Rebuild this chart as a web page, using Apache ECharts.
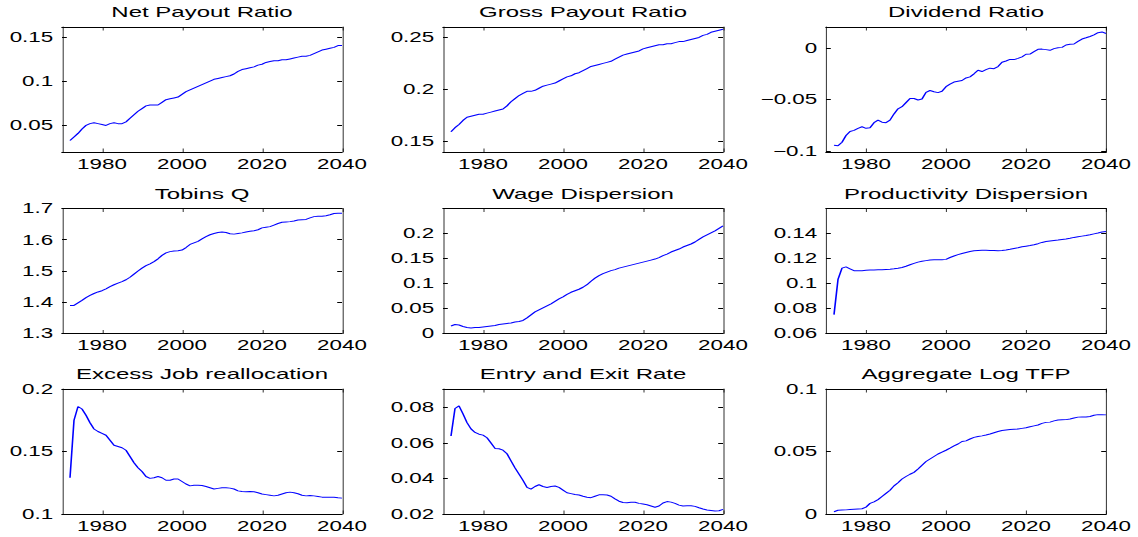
<!DOCTYPE html>
<html>
<head>
<meta charset="utf-8">
<script src="https://cdn.jsdelivr.net/npm/echarts@6/dist/echarts.min.js"></script>
<style>
  html, body { margin: 0; padding: 0; background: #fff; overflow: hidden; }
  /* the figure is drawn narrow and stretched sideways, like the reference export */
  #chart { width: 711.25px; height: 537px; transform: scaleX(1.6); transform-origin: 0 0; }
</style>
</head>
<body>
<div id="chart"></div>
<script>
// x values (years)
const years = [
  1972, 1973, 1974, 1975, 1976, 1977, 1978, 1979, 1980, 1981,
  1982, 1983, 1984, 1985, 1986, 1987, 1988, 1989, 1990, 1991,
  1992, 1993, 1994, 1995, 1996, 1997, 1998, 1999, 2000, 2001,
  2002, 2003, 2004, 2005, 2006, 2007, 2008, 2009, 2010, 2011,
  2012, 2013, 2014, 2015, 2016, 2017, 2018, 2019, 2020, 2021,
  2022, 2023, 2024, 2025, 2026, 2027, 2028, 2029, 2030, 2031,
  2032, 2033, 2034, 2035, 2036, 2037, 2038, 2039, 2040
];
const xTicks = [1980, 2000, 2020, 2040];

const titles = [
  'Net Payout Ratio', 'Gross Payout Ratio', 'Dividend Ratio',
  'Tobins Q', 'Wage Dispersion', 'Productivity Dispersion',
  'Excess Job reallocation', 'Entry and Exit Rate', 'Aggregate Log TFP'
];

// series values, one per year
const netPayout = [
  .033, .037, .041, .046, .050, .052, .053, .052, .051, .050,
  .052, .053, .052, .052, .054, .058, .062, .066, .069, .072,
  .073, .073, .073, .076, .079, .080, .081, .082, .085, .088,
  .090, .092, .094, .096, .098, .100, .102, .103, .104, .105,
  .106, .108, .111, .113, .114, .115, .116, .118, .119, .121,
  .122, .123, .123, .124, .124, .125, .126, .127, .128, .128,
  .129, .131, .133, .135, .136, .137, .138, .140, .140
];
const grossPayout = [
  .159, .163, .166, .170, .173, .174, .175, .176, .176, .177,
  .178, .179, .180, .181, .184, .188, .191, .194, .196, .198,
  .198, .199, .201, .203, .204, .205, .206, .208, .210, .212,
  .213, .215, .216, .218, .220, .222, .223, .224, .225, .226,
  .227, .229, .231, .233, .234, .235, .236, .237, .239, .240,
  .241, .242, .243, .243, .244, .244, .245, .246, .246, .247,
  .248, .249, .250, .252, .253, .255, .256, .257, .258
];
const dividendRatio = [
  -.0945, -.0950, -.0915, -.0850, -.0810, -.0800, -.0780, -.0765, -.0780, -.0775,
  -.0725, -.0700, -.0720, -.0725, -.0700, -.0640, -.0590, -.0570, -.0530, -.0490,
  -.0490, -.0505, -.0495, -.0430, -.0412, -.0425, -.0433, -.0420, -.0375, -.0350,
  -.0330, -.0322, -.0315, -.0290, -.0280, -.0250, -.0215, -.0228, -.0210, -.0195,
  -.0200, -.0180, -.0138, -.0125, -.0110, -.0112, -.0100, -.0085, -.0060, -.0058,
  -.0035, -.0012, -.0010, -.0015, -.0022, -.0005, .0003, .0007, .0030, .0038,
  .0040, .0065, .0088, .0100, .0113, .0128, .0150, .0157, .0142
];
const tobinsQ = [
  1.390, 1.390, 1.398, 1.406, 1.415, 1.422, 1.428, 1.433, 1.437, 1.443,
  1.450, 1.456, 1.461, 1.466, 1.472, 1.480, 1.490, 1.500, 1.509, 1.517,
  1.523, 1.530, 1.539, 1.550, 1.558, 1.562, 1.564, 1.565, 1.567, 1.575,
  1.585, 1.590, 1.595, 1.603, 1.610, 1.616, 1.620, 1.623, 1.625, 1.623,
  1.619, 1.618, 1.620, 1.622, 1.625, 1.627, 1.629, 1.632, 1.638, 1.640,
  1.642, 1.647, 1.652, 1.656, 1.657, 1.658, 1.660, 1.663, 1.664, 1.665,
  1.670, 1.674, 1.675, 1.675, 1.677, 1.680, 1.684, 1.685, 1.685
];
const wageDispersion = [
  .015, .018, .017, .014, .012, .011, .012, .012, .013, .014,
  .015, .016, .018, .019, .020, .021, .023, .024, .026, .031,
  .037, .043, .047, .051, .055, .059, .064, .069, .073, .078,
  .082, .085, .088, .092, .097, .104, .110, .115, .119, .122,
  .125, .127, .130, .132, .134, .136, .138, .140, .142, .144,
  .146, .148, .151, .155, .158, .162, .165, .168, .172, .175,
  .178, .182, .187, .192, .196, .200, .204, .209, .214
];
const prodDispersion = [
  .075, .103, .112, .113, .1115, .110, .110, .110, .1103, .1105,
  .1106, .1107, .1108, .1110, .1112, .1115, .1120, .1126, .1135, .1147,
  .1158, .1168, .1175, .1180, .1185, .1187, .1187, .1187, .1190, .1205,
  .1217, .1228, .1237, .1245, .1253, .1258, .1261, .1262, .1262, .1261,
  .1260, .1259, .1260, .1264, .1270, .1277, .1283, .1290, .1295, .1300,
  .1306, .1315, .1325, .1332, .1337, .1341, .1344, .1348, .1352, .1358,
  .1365, .1370, .1375, .1380, .1386, .1393, .1400, .1408, .1412
];
const excessJob = [
  .129, .175, .186, .184, .179, .173, .168, .166, .1645, .163,
  .159, .155, .154, .153, .151, .146, .141, .137, .134, .130,
  .1285, .129, .130, .129, .127, .127, .128, .128, .126, .124,
  .1225, .123, .123, .1228, .122, .121, .120, .1205, .121, .121,
  .1207, .120, .1185, .118, .1178, .118, .1178, .117, .116, .1155,
  .115, .1145, .115, .116, .117, .1175, .117, .1162, .115, .1145,
  .1148, .1145, .114, .1135, .1135, .1135, .1134, .113, .1127
];
const entryExit = [
  .064, .0795, .081, .0765, .0715, .068, .066, .065, .0645, .063,
  .060, .057, .0568, .056, .054, .050, .046, .0425, .039, .035,
  .034, .0355, .0365, .0355, .035, .0355, .0358, .035, .0335, .032,
  .0315, .031, .0307, .030, .0295, .0292, .030, .0308, .0308, .0307,
  .030, .0285, .0272, .0265, .0264, .0266, .0266, .026, .0256, .0252,
  .0245, .0238, .0245, .0262, .027, .0267, .026, .025, .0245, .0246,
  .0247, .0243, .0235, .0228, .0223, .022, .0217, .0218, .0226
];
const logTFP = [
  .0018, .003, .0032, .0033, .0036, .0038, .004, .0042, .0055, .0085,
  .0097, .0115, .014, .0165, .019, .0225, .025, .028, .030, .0318,
  .0333, .036, .039, .042, .044, .046, .048, .0495, .051, .0527,
  .0545, .056, .058, .0585, .060, .0613, .062, .0625, .0632, .064,
  .065, .066, .0668, .0672, .0676, .0678, .068, .0685, .069, .0698,
  .0705, .0712, .0725, .0733, .0735, .0745, .0752, .0754, .0755, .076,
  .0768, .0775, .0776, .0776, .078, .079, .0795, .0795, .0793
];

// y tick values per panel
const yTicks = [
  [0.05, 0.1, 0.15],
  [0.15, 0.2, 0.25],
  [-0.1, -0.05, 0],
  [1.3, 1.4, 1.5, 1.6, 1.7],
  [0, 0.05, 0.1, 0.15, 0.2],
  [0.06, 0.08, 0.1, 0.12, 0.14],
  [0.1, 0.15, 0.2],
  [0.02, 0.04, 0.06, 0.08],
  [0, 0.05, 0.1]
];
const yMin = [0.02, 0.1395, -0.101, 1.3, 0, 0.06, 0.1, 0.02, 0];
const yMax = [0.161, 0.2601, 0.0205, 1.7, 0.2486, 0.1595, 0.2, 0.0905, 0.1];

const values = [netPayout, grossPayout, dividendRatio, tobinsQ, wageDispersion,
  prodDispersion, excessJob, entryExit, logTFP];

// layout (unstretched px)
const S = 1.6;
const colLeft = [62 / S, 443 / S, 826 / S];
const rowTop = [27, 208.5, 389];
const boxW = 280 / S;
const boxH = 125;
const font = 'Liberation Sans, Arial, sans-serif';

const fmtY = v => String(+v.toFixed(4)).replace('-', '\u2212');
const fmtX = v => String(v);

const option = {
  backgroundColor: '#fff',
  animation: false,
  title: [], grid: [], xAxis: [], yAxis: [], series: []
};

for (let i = 0; i < 9; i++) {
  const c = i % 3, r = Math.floor(i / 3);
  option.grid.push({ left: colLeft[c], top: rowTop[r], width: boxW, height: boxH, containLabel: false });
  option.title.push({
    text: titles[i], left: colLeft[c] + boxW / 2, top: rowTop[r] - 22.5, textAlign: 'center', padding: 0,
    textStyle: { fontSize: 15, fontWeight: 'normal', color: '#000', fontFamily: font }
  });
  const xBase = {
    type: 'value', gridIndex: i, min: 1970, max: 2040, splitLine: { show: false },
    axisLine: { show: true, onZero: false, lineStyle: { color: '#000', width: 1 } },
    axisTick: { show: true, inside: true, length: 3.5, customValues: xTicks, lineStyle: { color: '#000', width: 1 / S } }
  };
  option.xAxis.push(Object.assign({}, xBase, {
    position: 'bottom',
    axisLabel: { show: true, customValues: xTicks, margin: 5, fontSize: 14, color: '#000', fontFamily: font, formatter: fmtX }
  }));
  option.xAxis.push(Object.assign({}, xBase, { position: 'top', axisLabel: { show: false } }));
  const yBase = {
    type: 'value', gridIndex: i, min: yMin[i], max: yMax[i], splitLine: { show: false },
    axisLine: { show: true, onZero: false, lineStyle: { color: '#000', width: 1 / S } },
    axisTick: { show: true, inside: true, length: 3, customValues: yTicks[i], lineStyle: { color: '#000', width: 1 } }
  };
  option.yAxis.push(Object.assign({}, yBase, {
    position: 'left',
    axisLabel: { show: true, customValues: yTicks[i], margin: 5.5, fontSize: 14, color: '#000', fontFamily: font, formatter: fmtY }
  }));
  option.yAxis.push(Object.assign({}, yBase, { position: 'right', axisLabel: { show: false } }));
  option.series.push({
    type: 'line', xAxisIndex: 2 * i, yAxisIndex: 2 * i,
    data: years.map((y, k) => [y, values[i][k]]),
    showSymbol: false, symbol: 'none', silent: true,
    lineStyle: { color: '#0000ff', width: 1 }
  });
}

const chart = echarts.init(document.getElementById('chart'), null, { renderer: 'svg' });
chart.setOption(option);
</script>
</body>
</html>
